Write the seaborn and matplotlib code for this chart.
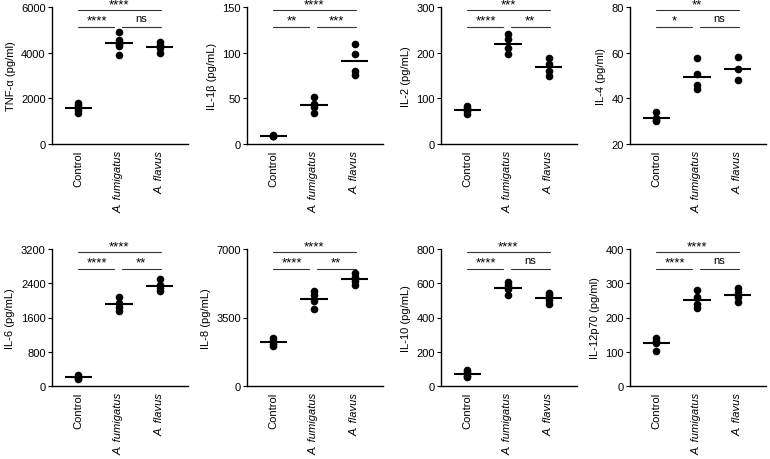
import numpy as np
import pandas as pd
import matplotlib
matplotlib.use("Agg")
import matplotlib.pyplot as plt
import matplotlib.transforms as mtransforms
import seaborn as sns

sns.set_theme(style="ticks")
plt.rcParams['font.family'] = ['Liberation Sans', 'DejaVu Sans']
plt.rcParams.update({'text.color': 'black', 'axes.labelcolor': 'black',
                     'xtick.color': 'black', 'ytick.color': 'black'})

groups = ['Control', 'A. fumigatus', 'A. flavus']

# values, one list per group
tnf = [[1800, 1700, 1500, 1350], [4900, 4550, 4400, 4300, 3900], [4450, 4350, 4200, 4000]]
il1b = [[9.5, 9, 8.5, 9], [51, 44, 40, 34], [110, 98, 80, 76]]
il2 = [[84, 79, 72, 66], [240, 230, 210, 198], [188, 175, 160, 150]]
il4 = [[34.2, 31.5, 30.5, 30], [57.5, 50.5, 46, 44], [58, 53, 48]]
il6 = [[250, 220, 180, 160], [2070, 1950, 1850, 1760], [2490, 2350, 2280, 2220]]
il8 = [[2450, 2300, 2150, 2050], [4850, 4650, 4350, 3950], [5750, 5550, 5350, 5150]]
il10 = [[95, 80, 60, 50], [605, 590, 565, 530], [545, 530, 505, 480]]
il12 = [[140, 130, 125, 102], [280, 260, 240, 228], [287, 275, 260, 245]]

labels = ['TNF-α (pg/ml)', 'IL-1β (pg/mL)', 'IL-2 (pg/mL)', 'IL-4 (pg/ml)',
          'IL-6 (pg/mL)', 'IL-8 (pg/mL)', 'IL-10 (pg/mL)', 'IL-12p70 (pg/ml)']
yticks = [[0, 2000, 4000, 6000], [0, 50, 100, 150], [0, 100, 200, 300], [20, 40, 60, 80],
          [0, 800, 1600, 2400, 3200], [0, 3500, 7000], [0, 200, 400, 600, 800],
          [0, 100, 200, 300, 400]]
# significance: (control vs flavus, control vs fumigatus, fumigatus vs flavus)
sig = [('****', '****', 'ns'), ('****', '**', '***'), ('***', '****', '**'), ('**', '*', 'ns'),
       ('****', '****', '**'), ('****', '****', '**'), ('****', '****', 'ns'), ('****', '****', 'ns')]
datasets = [tnf, il1b, il2, il4, il6, il8, il10, il12]

fig = plt.figure(figsize=(7.7, 4.6), dpi=100)
W, H = 770, 460
lefts = [52, 247, 441, 630]
tops = [8, 250]
aw, ah = 136, 137

for i, (data, lab, yt, s) in enumerate(zip(datasets, labels, yticks, sig)):
    r, c = divmod(i, 4)
    ax = fig.add_axes([lefts[c] / W, 1 - (tops[r] + ah) / H, aw / W, ah / H])
    df = pd.DataFrame({'group': np.repeat(groups, [len(d) for d in data]),
                       'value': np.concatenate(data)})
    sns.stripplot(data=df, x='group', y='value', order=groups, color='black',
                  jitter=False, size=5.5, ax=ax, zorder=3)
    means = [np.mean(d) for d in data]
    ax.hlines(means, np.arange(3) - 0.34, np.arange(3) + 0.34, color='black', lw=1.5, zorder=4)
    ax.set_xlim(-0.65, 2.7)
    ax.set_ylim(yt[0], yt[-1])
    ax.set_yticks(yt)
    ax.set_xlabel('')
    ax.set_ylabel(lab, fontsize=8)
    ax.tick_params(axis='y', labelsize=8, length=3, width=0.8, pad=1.5)
    ax.tick_params(axis='x', length=0, pad=4)
    ax.set_xticks(range(3))
    ax.set_xticklabels(groups, rotation=90, fontsize=8)
    for t in ax.get_xticklabels()[1:]:
        t.set_style('italic')
    for sp in ['top', 'right']:
        ax.spines[sp].set_visible(False)
    for sp in ['left', 'bottom']:
        ax.spines[sp].set_linewidth(1.0)
        ax.spines[sp].set_color('black')

    tr = mtransforms.blended_transform_factory(ax.transData, ax.transAxes)
    y1, y2 = 0.975, 0.855
    kw = dict(color='#333333', lw=0.8, transform=tr, clip_on=False)
    ax.plot([0, 2.03], [y1, y1], **kw)
    ax.plot([0, 0.88], [y2, y2], **kw)
    ax.plot([1.08, 2.03], [y2, y2], **kw)
    for x, y, txt in [(1.0, y1, s[0]), (0.45, y2, s[1]), (1.55, y2, s[2])]:
        star = txt != 'ns'
        ax.annotate(txt, (x, y), xycoords=tr, xytext=(0, 4.5 if star else 6.5),
                    textcoords='offset points', ha='center', va='center',
                    fontsize=9.5 if star else 8, annotation_clip=False)

fig.savefig('out.png', dpi=100)
